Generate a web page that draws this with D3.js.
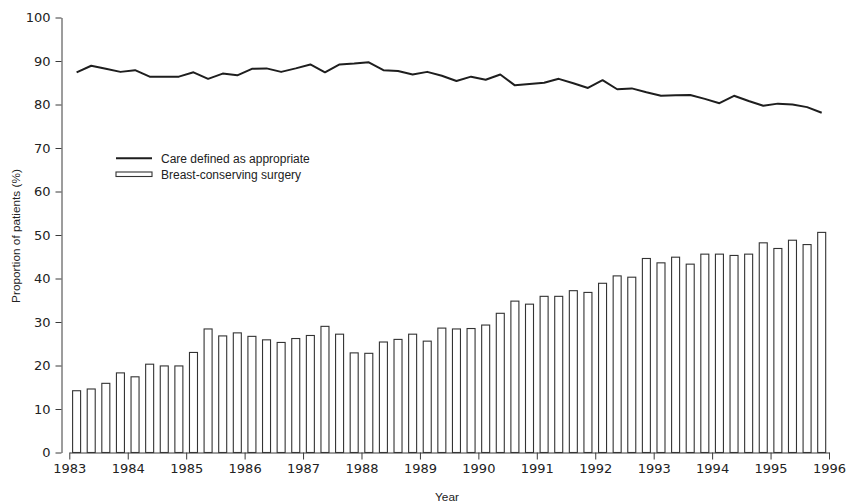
<!DOCTYPE html>
<html>
<head>
<meta charset="utf-8">
<script src="https://cdn.jsdelivr.net/npm/d3@7"></script>
<style>
  html, body { margin: 0; padding: 0; background: #fff; }
  svg { display: block; }
</style>
</head>
<body>
<svg id="chart" width="848" height="503"></svg>
<script>
// Quarterly observations, 1983 Q1 – 1995 Q4
const startYear = 1983;
const quarters = d3.range(52).map(i => startYear + (i + 0.5) / 4);

// Proportion of patients whose care was defined as appropriate (%)
const careAppropriate = [
  87.4, 88.9, 88.2, 87.5, 87.9, 86.4, 86.4, 86.4, 87.4, 85.9, 87.1, 86.7,
  88.2, 88.3, 87.5, 88.3, 89.2, 87.4, 89.2, 89.4, 89.7, 87.9, 87.7, 86.9,
  87.5, 86.6, 85.4, 86.4, 85.7, 86.9, 84.4, 84.7, 85.0, 85.9, 84.9, 83.8,
  85.6, 83.5, 83.7, 82.8, 82.0, 82.1, 82.2, 81.3, 80.3, 82.0, 80.8, 79.7,
  80.2, 80.0, 79.4, 78.1
];

// Proportion of patients receiving breast-conserving surgery (%)
const breastConserving = [
  14.2, 14.6, 15.9, 18.3, 17.4, 20.3, 19.9, 19.9, 23.0, 28.4, 26.8, 27.5,
  26.7, 25.9, 25.3, 26.2, 26.9, 29.0, 27.2, 22.9, 22.8, 25.4, 26.0, 27.2,
  25.6, 28.6, 28.4, 28.5, 29.3, 32.0, 34.8, 34.1, 35.9, 35.9, 37.2, 36.8,
  38.9, 40.6, 40.3, 44.6, 43.6, 44.9, 43.3, 45.6, 45.6, 45.3, 45.6, 48.2,
  46.9, 48.8, 47.8, 50.6
];

const yearTicks = d3.range(1983, 1997);
const percentTicks = d3.range(0, 101, 10);
const legendLabels = ["Care defined as appropriate", "Breast-conserving surgery"];

const svg = d3.select("#chart");
const axisColor = "#3a3a3a";

const x = d3.scaleLinear().domain([1983, 1996]).range([69.3, 829]);
const y = d3.scaleLinear().domain([0, 100]).range([452.5, 17.5]);
const barWidth = x(1983 + 0.137) - x(1983);

// Bars
svg.append("g")
  .selectAll("rect")
  .data(breastConserving)
  .join("rect")
  .attr("x", (d, i) => x(quarters[i]) - barWidth / 2)
  .attr("y", d => y(d))
  .attr("width", barWidth)
  .attr("height", d => y(0) - y(d))
  .attr("fill", "#fff")
  .attr("stroke", "#333")
  .attr("stroke-width", 1.1);

// Line
const line = d3.line()
  .x((d, i) => x(quarters[i]))
  .y(d => y(d));
svg.append("path")
  .datum(careAppropriate)
  .attr("d", line)
  .attr("fill", "none")
  .attr("stroke", "#1e1e1e")
  .attr("stroke-width", 2)
  .attr("stroke-linejoin", "round");

// X axis
const xAxis = svg.append("g")
  .attr("transform", `translate(0,${y(0)})`)
  .call(d3.axisBottom(x).tickValues(yearTicks).tickFormat(d3.format("d"))
    .tickSize(7).tickSizeOuter(0).tickPadding(4));
xAxis.select(".domain").attr("stroke", axisColor);
xAxis.selectAll(".tick line").attr("stroke", axisColor);
xAxis.selectAll(".tick text")
  .attr("fill", "#222")
  .style("font-family", "'DejaVu Sans', sans-serif")
  .style("font-size", "13px");

// Y axis
const yAxis = svg.append("g")
  .attr("transform", "translate(61.5,0)")
  .call(d3.axisLeft(y).tickValues(percentTicks)
    .tickSize(6).tickSizeOuter(0).tickPadding(5));
yAxis.select(".domain").attr("stroke", axisColor);
yAxis.selectAll(".tick line").attr("stroke", axisColor);
yAxis.selectAll(".tick text")
  .attr("fill", "#222")
  .style("font-family", "'DejaVu Sans', sans-serif")
  .style("font-size", "13px");

// Axis titles
svg.append("text")
  .attr("transform", "translate(20,236) rotate(-90)")
  .attr("text-anchor", "middle")
  .attr("fill", "#222")
  .style("font-family", "'Liberation Sans', Arial, sans-serif")
  .style("font-size", "11.8px")
  .text("Proportion of patients (%)");

svg.append("text")
  .attr("x", 447)
  .attr("y", 501)
  .attr("text-anchor", "middle")
  .attr("fill", "#222")
  .style("font-family", "'Liberation Sans', Arial, sans-serif")
  .style("font-size", "11.8px")
  .text("Year");

// Legend
const legend = svg.append("g");
legend.append("line")
  .attr("x1", 116).attr("x2", 152)
  .attr("y1", 158.3).attr("y2", 158.3)
  .attr("stroke", "#1e1e1e").attr("stroke-width", 2);
legend.append("rect")
  .attr("x", 116).attr("y", 172)
  .attr("width", 36).attr("height", 4.5)
  .attr("fill", "#fff").attr("stroke", "#333").attr("stroke-width", 1.1);
legend.selectAll("text")
  .data(legendLabels)
  .join("text")
  .attr("x", 161)
  .attr("y", (d, i) => 162.5 + i * 16.5)
  .attr("fill", "#222")
  .style("font-family", "'Liberation Sans', Arial, sans-serif")
  .style("font-size", "12px")
  .text(d => d);
</script>
</body>
</html>
